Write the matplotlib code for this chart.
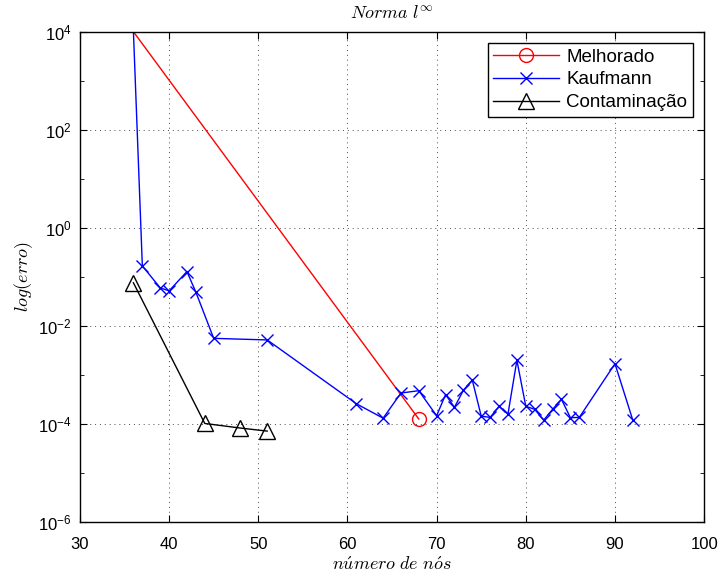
import numpy as np
import matplotlib
matplotlib.use("Agg")
import matplotlib.pyplot as plt
from matplotlib.ticker import LogLocator, NullFormatter, FixedLocator

plt.rcParams['font.family'] = ['Liberation Sans', 'DejaVu Sans']
plt.rcParams['mathtext.fontset'] = 'cm'

# Melhorado
mel_x = [36, 68]
mel_y = [1e4, 1.27e-4]

# Kaufmann
kau_x = [36, 37, 39, 40, 42, 43, 45, 51, 61, 64, 66, 68, 70, 71, 72, 73, 74,
         75, 76, 77, 78, 79, 80, 81, 82, 83, 84, 85, 86, 90, 92]
kau_y = [1e4, 0.168, 0.060, 0.052, 0.129, 0.049, 0.0056, 0.0052,
         2.6e-4, 1.32e-4, 4.3e-4, 4.8e-4, 1.48e-4, 4.0e-4, 2.2e-4, 4.9e-4, 7.9e-4,
         1.45e-4, 1.37e-4, 2.3e-4, 1.6e-4, 2.0e-3, 2.3e-4, 2.0e-4, 1.2e-4, 2.0e-4,
         3.2e-4, 1.35e-4, 1.37e-4, 1.7e-3, 1.2e-4]

# Contaminacao
con_x = [36, 44, 48, 51]
con_y = [0.076, 1.03e-4, 8.3e-5, 7.2e-5]

xticks = [30, 40, 50, 60, 70, 80, 90, 100]
yticks = [1e-6, 1e-4, 1e-2, 1e0, 1e2, 1e4]

fig = plt.figure(figsize=(7.2, 5.77), dpi=100)
ax = fig.add_axes([0.111, 0.095, 0.867, 0.85])

# the first point sits on the top edge, its marker is clipped in the original
ax.plot(mel_x, mel_y, color='red', lw=1, marker='o', ms=10, mfc='none',
        mec='red', mew=1, markevery=[1], label='Melhorado')
ax.plot(kau_x, kau_y, color='blue', lw=1, marker='x', ms=9, mew=1,
        markevery=list(range(1, len(kau_x))), label='Kaufmann')
ax.plot(con_x, con_y, color='black', lw=1, marker='^', ms=11, mfc='none',
        mec='black', mew=1, label='Contaminação')

ax.set_yscale('log')
ax.set_xlim(30, 100)
ax.set_ylim(1e-6, 1e4)
ax.xaxis.set_major_locator(FixedLocator(xticks))
ax.yaxis.set_major_locator(FixedLocator(yticks))
ax.yaxis.set_minor_locator(LogLocator(base=10, subs=(1.0,), numticks=20))
ax.yaxis.set_minor_formatter(NullFormatter())
ax.set_yticklabels([r'$\mathregular{10^{%d}}$' % int(np.log10(v)) for v in yticks])

ax.tick_params(which='both', direction='in', top=True, right=True, labelsize=12)
ax.tick_params(axis='x', pad=11)
ax.tick_params(axis='y', pad=6)
ax.tick_params(which='major', length=5, width=0.8)
ax.tick_params(which='minor', length=3, width=0.6)
ax.grid(True, which='major', linestyle=(0, (1, 4)), color='black', lw=0.7, alpha=0.7)
for s in ax.spines.values():
    s.set_linewidth(1.0)

ax.set_title(r'$Norma\ l^{\infty}$', fontsize=13, pad=10)
ax.set_xlabel(r'$n\acute{u}mero\ de\ n\acute{o}s$', fontsize=13, labelpad=3)
ax.set_ylabel(r'$log(erro)$', fontsize=13, labelpad=2)

leg = ax.legend(loc='upper right', fontsize=13.5, frameon=True, fancybox=False,
                edgecolor='black', framealpha=1, borderpad=0.3, labelspacing=0.3,
                handlelength=3.5, handletextpad=0.4, borderaxespad=0.6)
leg.get_frame().set_linewidth(1.0)

fig.savefig('out.png', dpi=100)
